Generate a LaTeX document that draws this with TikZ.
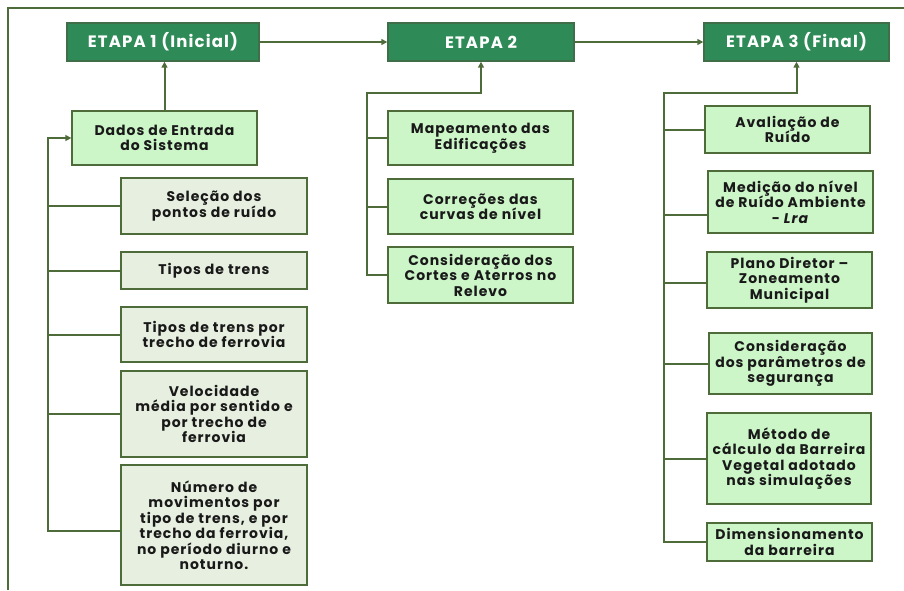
\documentclass[tikz,border=0pt]{standalone}
\usepackage{fontspec}
\setmainfont{Poppins}
\newfontfamily\boxfont[LetterSpace=7]{Poppins}
\usetikzlibrary{arrows.meta}
\definecolor{stagegreen}{HTML}{2E8B57}
\definecolor{stageedge}{HTML}{3F6E48}
\definecolor{leafgreen}{HTML}{CCF5C8}
\definecolor{palegreen}{HTML}{E7F0E0}
\definecolor{linkgreen}{HTML}{4E6B3A}
\tikzset{
  x=1pt, y=-1pt,
  stage/.style={draw=stageedge, line width=1.4pt, fill=stagegreen, text=white,
    font=\boxfont\fontsize{16.5}{18}\selectfont\bfseries, inner sep=0pt},
  leaf/.style={draw=linkgreen, line width=1.3pt, fill=leafgreen, align=center,
    font=\boxfont\fontsize{14}{15.5}\selectfont\bfseries, inner sep=0pt, text=black!90},
  paleleaf/.style={leaf, fill=palegreen},
  link/.style={draw=linkgreen, line width=2pt},
  linkarrow/.style={link, -{Triangle[length=6pt,width=6pt]}},
}
\begin{document}
\begin{tikzpicture}
\useasboundingbox (0,0) rectangle (904,590);
% outer frame
\draw[draw=linkgreen, line width=1.5pt] (8,590) -- (8,8) -- (904,8);

% stages
\node[stage, minimum width=192pt, minimum height=38pt] (E1) at (163,42) {ETAPA 1 (Inicial)};
\node[stage, minimum width=186pt, minimum height=38pt] (E2) at (481,42) {ETAPA 2};
\node[stage, minimum width=185pt, minimum height=38pt] (E3) at (796.5,42) {ETAPA 3 (Final)};

% stage 1 items
\node[leaf, minimum width=185pt, minimum height=54pt] (dados) at (164.5,138) {Dados de Entrada\\do Sistema};
\node[paleleaf, minimum width=186pt, minimum height=56pt] (selecao) at (214,206) {Seleção dos\\pontos de ruído};
\node[paleleaf, minimum width=186pt, minimum height=37pt] (tipos) at (214,270.5) {Tipos de trens};
\node[paleleaf, minimum width=186pt, minimum height=55pt] (tiposT) at (214,334.5) {Tipos de trens por\\trecho de ferrovia};
\node[paleleaf, minimum width=186pt, minimum height=86pt] (veloc) at (214,414) {Velocidade\\média por sentido e\\por trecho de\\ferrovia};
\node[paleleaf, minimum width=186pt, minimum height=120pt] (numero) at (214,525) {Número de\\movimentos por\\tipo de trens, e por\\trecho da ferrovia,\\no período diurno e\\noturno.};

% stage 2 items
\node[leaf, minimum width=185pt, minimum height=54pt] (mapa) at (480.5,138) {Mapeamento das\\Edificações};
\node[leaf, minimum width=185pt, minimum height=55pt] (correc) at (480.5,206.5) {Correções das\\curvas de nível};
\node[leaf, minimum width=185pt, minimum height=56pt] (cortes) at (480.5,275) {Consideração dos\\Cortes e Aterros no\\Relevo};

% stage 3 items
\node[leaf, minimum width=165pt, minimum height=47pt] (aval) at (787.5,129.5) {Avaliação de\\Ruído};
\node[leaf, minimum width=165pt, minimum height=62pt] (medicao) at (790.5,202) {Medição do nível\\de Ruído Ambiente\\- \textit{Lra}};
\node[leaf, minimum width=165pt, minimum height=56pt] (plano) at (789.5,280) {Plano Diretor –\\Zoneamento\\Municipal};
\node[leaf, minimum width=163pt, minimum height=61pt] (param) at (790.5,363.5) {Consideração\\dos parâmetros de\\segurança};
\node[leaf, minimum width=164pt, minimum height=91pt] (metodo) at (789,458.5) {Método de\\cálculo da Barreira\\Vegetal adotado\\nas simulações};
\node[leaf, minimum width=165pt, minimum height=38pt] (dimens) at (789.5,542) {Dimensionamento\\da barreira};

% bus corners
\coordinate (bus1) at (48,138);
\coordinate (bus2) at (367,93);
\coordinate (bus3) at (664,93);

% stage flow
\draw[linkarrow] (E1) -- (E2);
\draw[linkarrow] (E2) -- (E3);

% stage 1 wiring
\draw[linkarrow] (dados.north) -- (dados.north |- E1.south);
\draw[linkarrow] ([yshift=-6pt]numero.west) -| (bus1) -- (dados.west);
\foreach \n in {selecao,tipos,tiposT,veloc}
  \draw[link] (\n.west) -- (\n.west -| bus1);

% stage 2 wiring
\draw[linkarrow] (cortes.west) -| (bus2) -| (E2.south);
\foreach \n in {mapa,correc}
  \draw[link] (\n.west) -- (\n.west -| bus2);

% stage 3 wiring
\draw[linkarrow] (dimens.west) -| (bus3) -| (E3.south);
\foreach \n in {aval,param,metodo}
  \draw[link] (\n.west) -- (\n.west -| bus3);
\draw[link] ([yshift=-13pt]medicao.west) -- ([yshift=-13pt]medicao.west -| bus3);
\draw[link] ([yshift=-3pt]plano.west) -- ([yshift=-3pt]plano.west -| bus3);
\end{tikzpicture}
\end{document}
